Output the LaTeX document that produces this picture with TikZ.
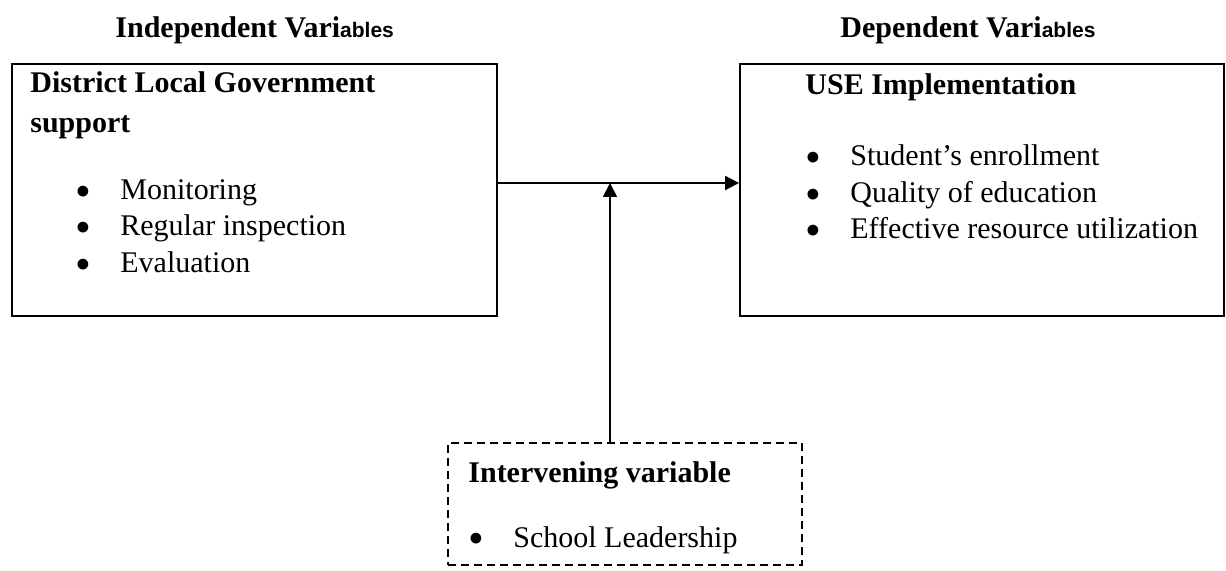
\documentclass[tikz,border=0pt]{standalone}
\usepackage{graphicx}
\usepackage{fontspec}
\setmainfont{Liberation Serif}
\newfontfamily\varsans{Liberation Sans}
\usetikzlibrary{positioning,arrows.meta}

% bullet with a fixed gap before the item text
\newcommand{\bul}{\makebox[22.5pt][l]{\smash{\raisebox{-3.3pt}{\scalebox{1.5}{\textbullet}}}}}

\begin{document}
\begin{tikzpicture}[
  x=0.5pt,y=-0.5pt,
  >={Triangle[length=7pt,width=7pt]},
  varbox/.style={draw=black,line width=0.9pt,inner sep=0pt},
  ivbox/.style={draw=black,line width=0.9pt,inner sep=0pt,dash pattern=on 4pt off 2.5pt},
  txt/.style={anchor=base west,inner sep=0pt,font=\fontsize{15}{18}\selectfont},
  head/.style={txt,font=\fontsize{15}{18}\selectfont\bfseries},
  ar/.style={->,line width=0.9pt,black}
]
\useasboundingbox (0,0) rectangle (1226,571);

% column titles
\node[head] (indep) at (115,38) {Independent Vari{\varsans\fontsize{10.5}{12}\selectfont ables}};
\node[head] (dep)   at (840,38) {Dependent Vari{\varsans\fontsize{10.5}{12}\selectfont ables}};

% independent variable box
\node[varbox,minimum width=242.5pt,minimum height=126pt] (dlg) at (254.5,190) {};
\node[head] (dlgt1) at (30,93)  {District Local Government};
\node[head] (dlgt2) at (30,133) {support};
\node[txt]  (mon)   at (75,200) {\bul Monitoring};
\node[txt]  (insp)  at (75,236) {\bul Regular inspection};
\node[txt]  (eval)  at (75,273) {\bul Evaluation};

% dependent variable box
\node[varbox,minimum width=242pt,minimum height=126pt] (use) at (982,190) {};
\node[head] (uset)  at (805,95)  {USE Implementation};
\node[txt]  (enrol) at (805,166) {\bul Student’s enrollment};
\node[txt]  (qual)  at (805,203) {\bul Quality of education};
\node[txt]  (res)   at (805,239) {\bul Effective resource utilization};

% intervening variable box
\node[ivbox,minimum width=177pt,minimum height=61pt] (ivb) at (625,504) {};
\node[head] (ivbt)  at (468,482) {Intervening variable};
\node[txt]  (lead)  at (468,547) {\bul School Leadership};

% connectors
\coordinate (mid) at (610,183);
\draw[ar] (dlg.east |- mid) -- (use.west |- mid);
\draw[ar] (ivb.north -| mid) -- (mid);
\end{tikzpicture}
\end{document}
